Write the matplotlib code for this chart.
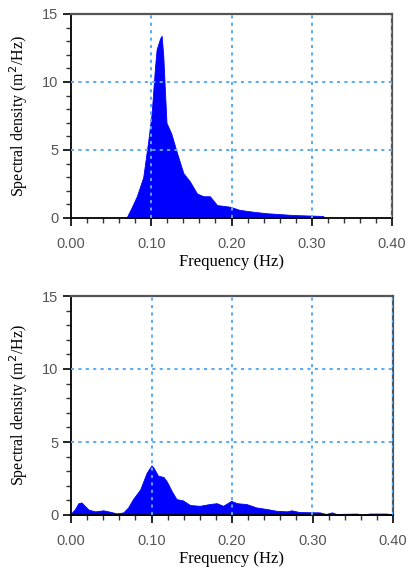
import matplotlib
matplotlib.use("Agg")
import matplotlib.pyplot as plt
from matplotlib.ticker import MultipleLocator, FormatStrFormatter

# top panel spectrum
freq_a = [0.069, 0.075, 0.082, 0.090, 0.0963, 0.1005, 0.1047, 0.1067, 0.111,
          0.113, 0.115, 0.117, 0.119, 0.125, 0.132, 0.140, 0.148, 0.157,
          0.165, 0.173, 0.182, 0.198, 0.210, 0.227, 0.244, 0.277, 0.314, 0.316]
dens_a = [0.0, 0.7, 1.6, 3.0, 5.7, 7.7, 11.1, 12.4, 13.2,
          13.4, 11.9, 9.4, 7.0, 6.2, 4.8, 3.3, 2.7, 1.8,
          1.6, 1.6, 0.95, 0.83, 0.6, 0.46, 0.35, 0.22, 0.15, 0.0]

# bottom panel spectrum
freq_b = [0.0, 0.005, 0.009, 0.013, 0.017, 0.022, 0.030, 0.040, 0.048, 0.057,
          0.065, 0.071, 0.077, 0.086, 0.094, 0.100, 0.103, 0.108, 0.115, 0.119,
          0.125, 0.131, 0.139, 0.148, 0.160, 0.172, 0.181, 0.189, 0.199, 0.206,
          0.218, 0.230, 0.243, 0.255, 0.268, 0.274, 0.284, 0.309, 0.317, 0.324,
          0.330, 0.355, 0.363, 0.371, 0.392, 0.398, 0.400]
dens_b = [0.1, 0.4, 0.8, 0.86, 0.63, 0.36, 0.25, 0.32, 0.23, 0.11,
          0.18, 0.52, 1.09, 1.76, 2.9, 3.4, 3.2, 2.7, 2.6, 2.3,
          1.65, 1.09, 1.0, 0.68, 0.63, 0.75, 0.81, 0.63, 0.97, 0.81,
          0.75, 0.52, 0.41, 0.29, 0.25, 0.32, 0.2, 0.18, 0.07, 0.18,
          0.07, 0.1, 0.02, 0.1, 0.1, 0.05, 0.0]

x_grid = [0.1, 0.2, 0.3, 0.4]
y_grid = [5, 10]

fig = plt.figure(figsize=(4.1, 5.72), dpi=100)
ax_top = fig.add_axes([71 / 410, 1 - 218 / 572, 321 / 410, 204 / 572])
ax_bot = fig.add_axes([71 / 410, 1 - 515 / 572, 322 / 410, 219 / 572])

grid_kw = dict(color="#55aaf5", lw=1.4, ls=(0, (1.6, 2.2)), zorder=3)
serif = ["Liberation Serif", "DejaVu Serif"]

for ax, fx, fy in [(ax_top, freq_a, dens_a), (ax_bot, freq_b, dens_b)]:
    ax.fill_between(fx, fy, color="#0000ff", lw=0.6, edgecolor="#0000ff", zorder=2)
    for gx in x_grid:
        ax.axvline(gx, **grid_kw)
    for gy in y_grid:
        ax.axhline(gy, **grid_kw)
    ax.set_xlim(0, 0.4)
    ax.set_ylim(0, 15)
    ax.xaxis.set_major_locator(MultipleLocator(0.1))
    ax.xaxis.set_minor_locator(MultipleLocator(0.02))
    ax.yaxis.set_major_locator(MultipleLocator(5))
    ax.yaxis.set_minor_locator(MultipleLocator(1))
    ax.xaxis.set_major_formatter(FormatStrFormatter("%.2f"))
    ax.tick_params(which="major", direction="out", length=6, width=1.2,
                   color="black", labelcolor="#555555", labelsize=10.5)
    ax.tick_params(which="minor", direction="out", length=3.5, width=1,
                   color="#333333")
    ax.tick_params(axis="x", which="major", pad=8)
    ax.tick_params(axis="y", which="major", pad=3)
    for lab in ax.get_xticklabels() + ax.get_yticklabels():
        lab.set_family(["Liberation Sans", "DejaVu Sans"])
    ax.spines["left"].set_color("black")
    ax.spines["bottom"].set_color("black")
    ax.spines["left"].set_linewidth(1.3)
    ax.spines["bottom"].set_linewidth(1.3)
    ax.spines["top"].set_color("#555555")
    ax.spines["right"].set_color("#555555")
    ax.spines["top"].set_linewidth(1.6)
    ax.spines["right"].set_linewidth(1.6)
    ax.set_xlabel("Frequency (Hz)", family=serif, fontsize=12, labelpad=2)
    ax.set_ylabel("Spectral density (m$^2$/Hz)", family=serif, fontsize=11.5,
                  labelpad=9)

fig.savefig("out.png", dpi=100)
